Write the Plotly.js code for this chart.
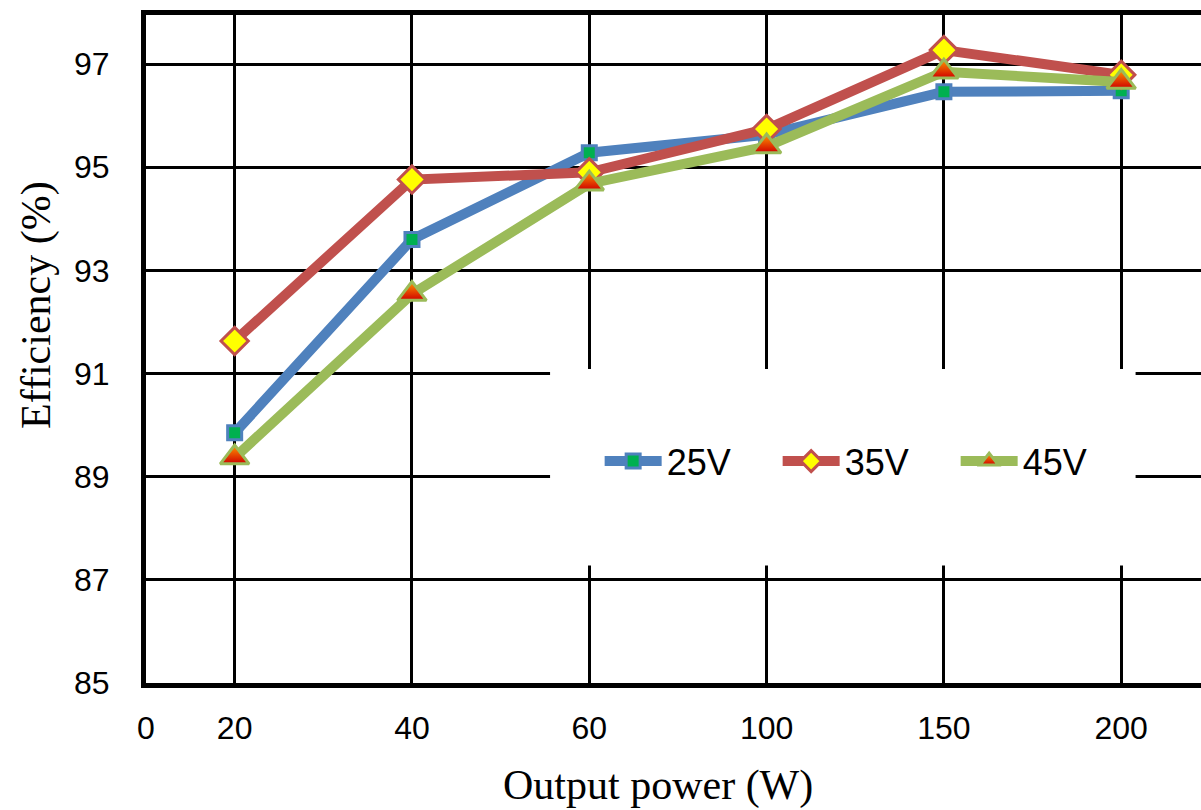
<!DOCTYPE html>
<html>
<head>
<meta charset="utf-8">
<script src="https://cdn.plot.ly/plotly-3.0.1.min.js"></script>
<style>html,body{margin:0;padding:0;background:#fff;}#chart{width:1201px;height:810px;}</style>
</head>
<body>
<div id="chart"></div>
<script>
// Categories (Output power, W) placed at positions 1..6
const powerLabels = ["20", "40", "60", "100", "150", "200"];
const positions = [1, 2, 3, 4, 5, 6];
const tickVals = [0.5, 1, 2, 3, 4, 5, 6];
const tickText = ["0", "20", "40", "60", "100", "150", "200"];

const eff25V = [89.85, 93.60, 95.28, 95.63, 96.46, 96.48];
const eff35V = [91.63, 94.76, 94.90, 95.74, 97.27, 96.79];
const eff45V = [89.37, 92.54, 94.68, 95.40, 96.85, 96.65];

const seriesNames = ["25V", "35V", "45V"];
const xTitle = "Output power (W)";
const yTitle = "Efficiency (%)";

const traces = [
  {
    x: positions, y: eff25V, name: seriesNames[0], type: 'scatter', mode: 'lines+markers',
    line: {color: '#4F81BD', width: 10},
    marker: {symbol: 'square', size: 14, color: '#00B050', line: {color: '#4F81BD', width: 3}}
  },
  {
    x: positions, y: eff35V, name: seriesNames[1], type: 'scatter', mode: 'lines+markers',
    line: {color: '#C0504D', width: 10},
    marker: {symbol: 'diamond', size: 21, color: '#FFFF00', line: {color: '#C0504D', width: 3}}
  },
  {
    x: positions, y: eff45V, name: seriesNames[2], type: 'scatter', mode: 'lines+markers',
    line: {color: '#9BBB59', width: 10},
    marker: {symbol: 'triangle-up', size: 25, color: '#FF9900', gradient: {type: 'vertical', color: '#D00000'}, line: {color: '#9BBB59', width: 3}}
  }
];

const serif = 'Liberation Serif, Times New Roman, serif';
const sans = 'Liberation Sans, Arial, sans-serif';

const layout = {
  width: 1201, height: 810,
  margin: {l: 146, r: 0, t: 15, b: 127},
  paper_bgcolor: '#fff', plot_bgcolor: '#fff',
  showlegend: true,
  legend: {
    orientation: 'h', x: 0.43, xanchor: 'left', y: 0.332, yanchor: 'middle',
    bgcolor: 'rgba(255,255,255,0)', borderwidth: 0,
    font: {family: sans, size: 36, color: '#000'},
    itemwidth: 57, entrywidth: 106, entrywidthmode: 'pixels', traceorder: 'normal'
  },
  xaxis: {
    range: [0.5, 6.45], tickmode: 'array', tickvals: tickVals, ticktext: tickText,
    showgrid: true, gridcolor: '#000', gridwidth: 3,
    showline: true, linecolor: '#000', linewidth: 5, mirror: true,
    zeroline: false, ticks: '', ticklabelstandoff: 13,
    tickfont: {family: sans, size: 32, color: '#000'}
  },
  yaxis: {
    range: [85, 97.95], tickmode: 'array', tickvals: [85, 87, 89, 91, 93, 95, 97],
    showgrid: true, gridcolor: '#000', gridwidth: 3,
    showline: true, linecolor: '#000', linewidth: 5, mirror: false,
    zeroline: false, ticks: '', ticklabelstandoff: 25,
    tickfont: {family: sans, size: 32, color: '#000'}
  },
  annotations: [
    {text: xTitle, xref: 'paper', yref: 'paper', x: 0.4853, y: -0.154, xanchor: 'center', yanchor: 'middle',
     showarrow: false, font: {family: serif, size: 42, color: '#000'}},
    {text: yTitle, xref: 'paper', yref: 'paper', x: -0.1033, y: 0.566, xanchor: 'center', yanchor: 'middle',
     textangle: -90, showarrow: false, font: {family: serif, size: 42, color: '#000'}}
  ],
  shapes: [
    {type: 'rect', xref: 'paper', yref: 'paper', x0: 0.383, x1: 0.938, y0: 0.176, y1: 0.47,
     fillcolor: '#fff', line: {width: 0}, layer: 'above'}
  ]
};

Plotly.newPlot('chart', traces, layout, {displayModeBar: false, staticPlot: true});
</script>
</body>
</html>
